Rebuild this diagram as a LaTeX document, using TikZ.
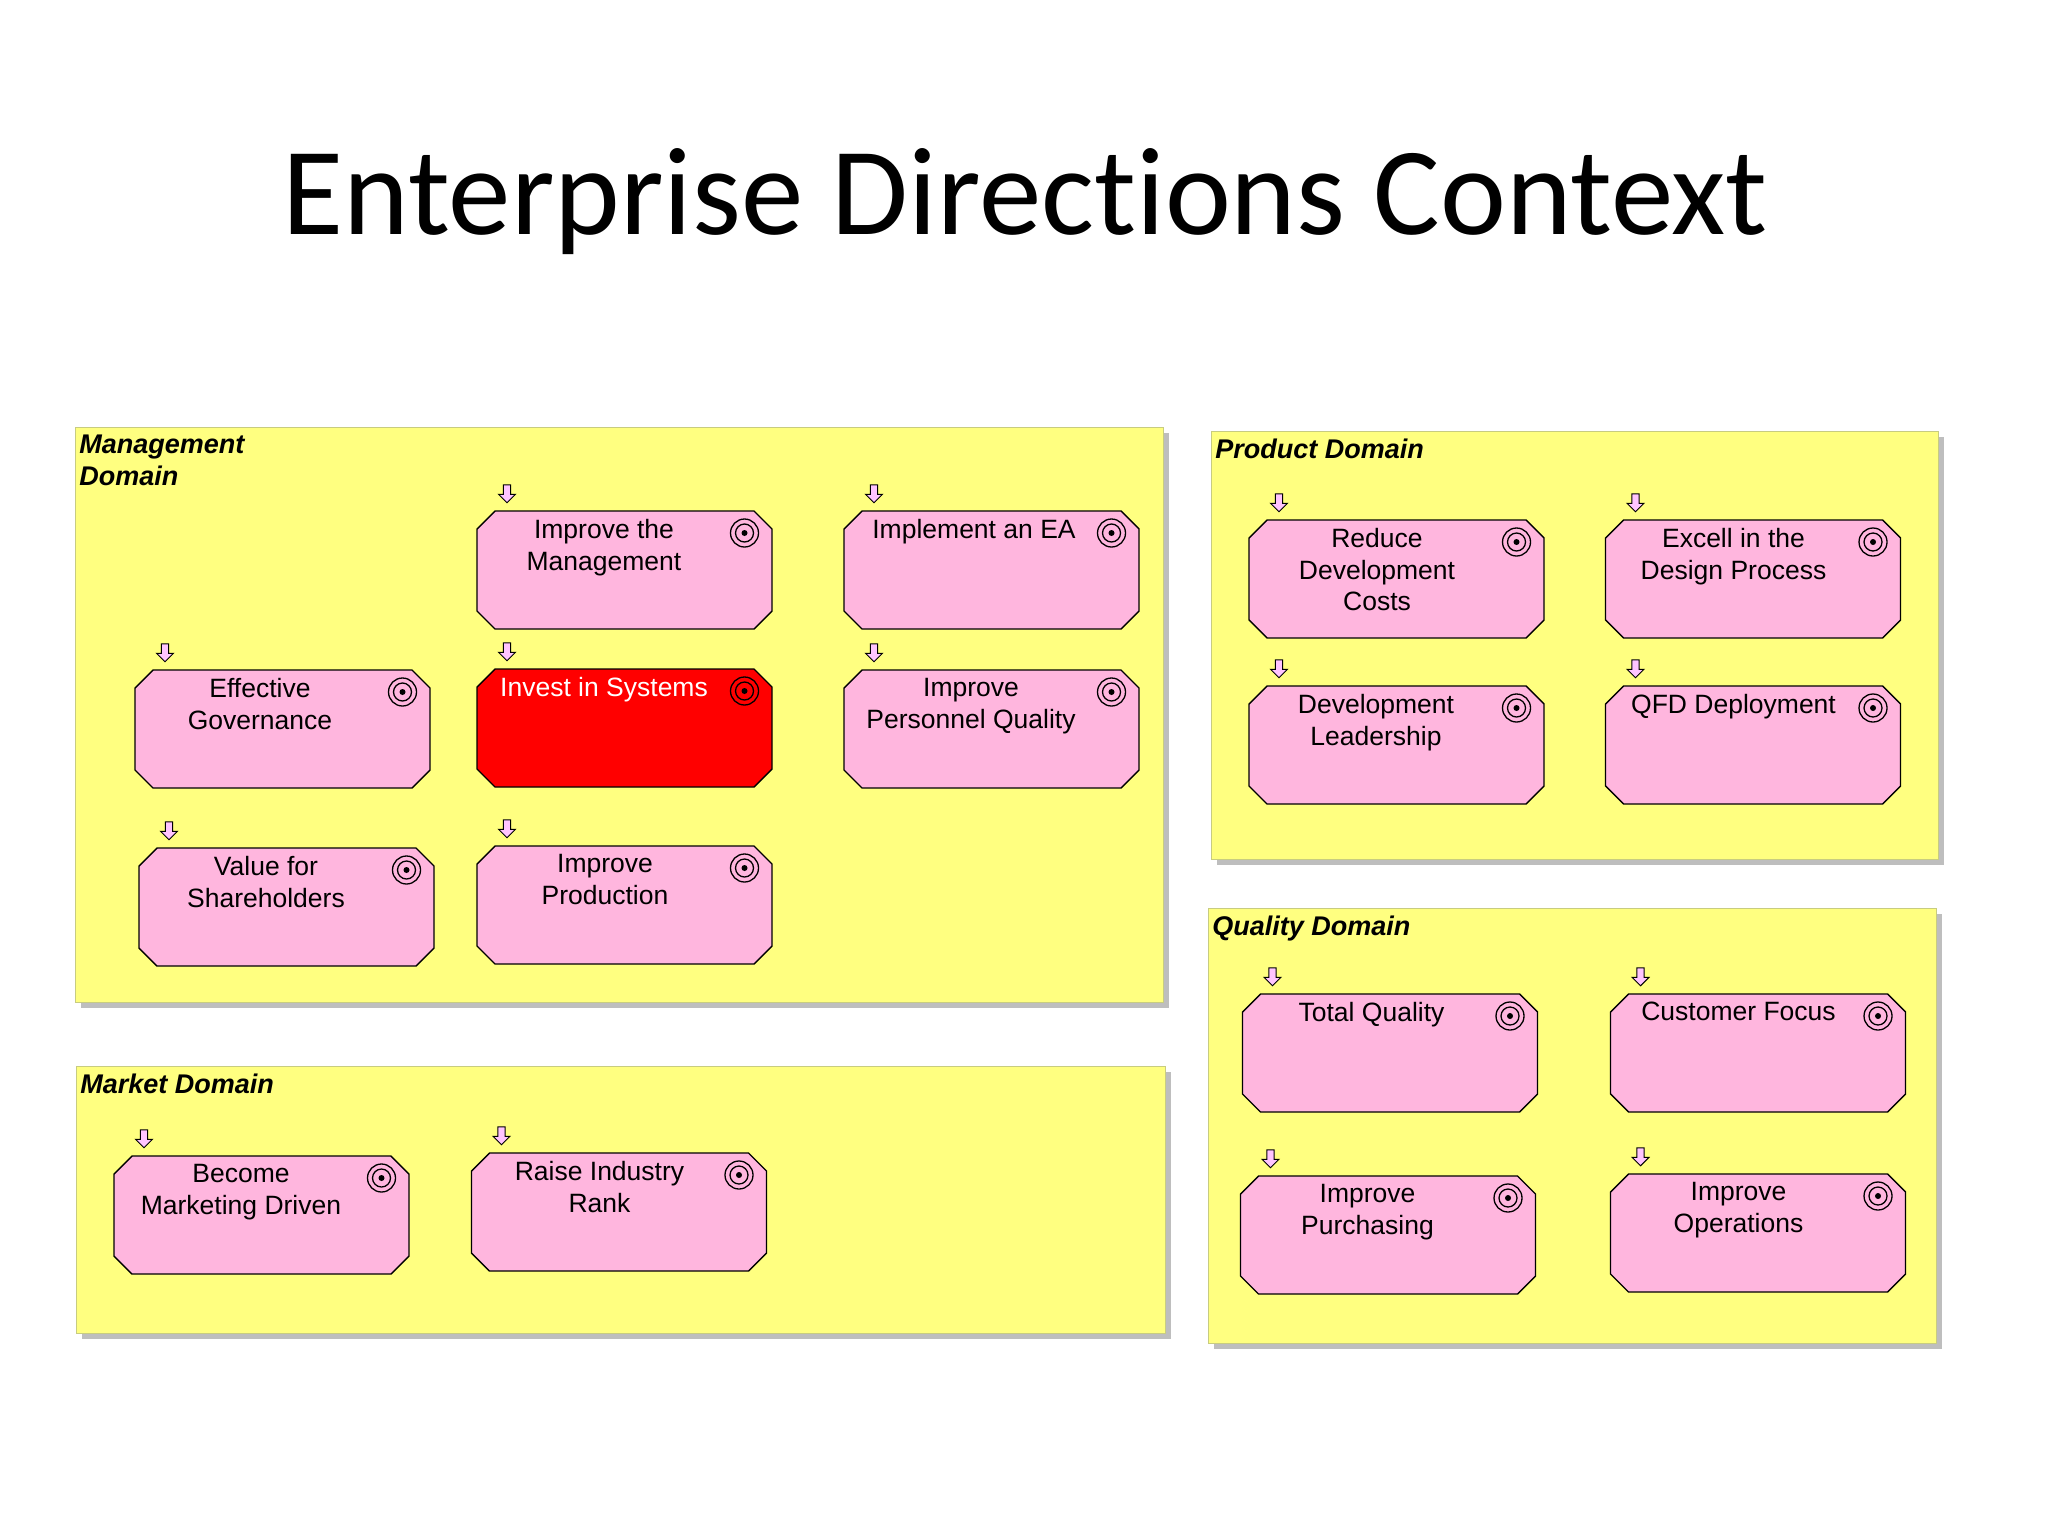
\documentclass[tikz,border=0pt]{standalone}
\usepackage{fontspec}
\setmainfont{Liberation Sans}
\newfontfamily\titlefont[Ligatures=NoCommon]{Carlito}
\usetikzlibrary{shapes.arrows}
\definecolor{panelfill}{HTML}{FFFF80}
\definecolor{panelline}{HTML}{C8CC80}
\definecolor{panelshadow}{HTML}{BEBEBE}
\definecolor{goalpink}{HTML}{FFB6DE}
\definecolor{arrowpink}{HTML}{FFC4FF}
\tikzset{
  panelbox/.style={draw=panelline,line width=0.6pt,fill=panelfill,anchor=north west,inner sep=0pt},
  panelshade/.style={fill=panelshadow,draw=none,anchor=north west,inner sep=0pt},
  paneltitle/.style={font=\fontsize{13.5}{15.7}\selectfont\bfseries\itshape,anchor=north west,align=left,inner sep=0pt},
  goalshape/.style={draw=black,line width=0.7pt,fill=goalpink,line join=miter},
  goaltext/.style={font=\fontsize{13.25}{15.7}\selectfont,align=center,anchor=north,inner sep=0pt,text=black},
  targetring/.style={circle,draw=black,line width=0.65pt,inner sep=0pt,fill=none},
  markerarrow/.style={single arrow,draw=black,line width=0.45pt,fill=arrowpink,minimum height=9pt,minimum width=8.5pt,single arrow head extend=1.5pt,single arrow tip angle=90,shape border rotate=270,inner sep=0.9pt},
}
% #1 name, #2 left, #3 top, #4 text centre offset from left, #5 text, #6 extra shape style, #7 extra text style
\newcommand{\goalunit}[7]{%
  \draw[goalshape,#6] (#2+18,#3) -- (#2+277,#3) -- (#2+295,#3+18) -- (#2+295,#3+100) -- (#2+277,#3+118) -- (#2+18,#3+118) -- (#2,#3+100) -- (#2,#3+18) -- cycle;
  \node[goaltext,#7] (#1-text) at (#2+#4,#3+8) {#5};
  \node[targetring,minimum size=14pt] (#1-outer) at (#2+267.5,#3+22) {};
  \node[targetring,minimum size=9pt] (#1-mid) at (#2+267.5,#3+22) {};
  \node[circle,fill=black,inner sep=0pt,minimum size=3pt] (#1-dot) at (#2+267.5,#3+22) {};
  \node[markerarrow] (#1-arrow) at (#2+30,#3-19) {};
}
\newcommand{\panelunit}[6]{% name,left,top,width,height,title
  \node[panelshade,minimum width=#4*0.5pt,minimum height=#5*0.5pt] (#1-shadow) at (#2+6,#3+6) {};
  \node[panelbox,minimum width=#4*0.5pt,minimum height=#5*0.5pt] (#1) at (#2,#3) {};
  \node[paneltitle] (#1-title) at (#2+4,#3+8) {#6};
}
\begin{document}
\begin{tikzpicture}[x=0.5pt,y=-0.5pt]
\useasboundingbox (0,0) rectangle (2048,1536);
\fill[white] (0,0) rectangle (2048,1536);
\node[font=\titlefont\fontsize{62.5}{66}\selectfont,inner sep=0pt,anchor=base] (title) at (1025.5,234) {Enterprise Directions Context};

\panelunit{mgmt}{75}{427}{1088}{575}{Management\\Domain}
\panelunit{market}{76}{1066}{1089}{267}{Market Domain}
\panelunit{product}{1211}{431}{727}{428}{Product Domain}
\panelunit{quality}{1208}{908}{728}{435}{Quality Domain}

\goalunit{a1}{477}{511}{127}{Improve the\\Management}{}{}
\goalunit{a2}{844}{511}{130}{Implement an EA}{}{}
\goalunit{b1}{135}{670}{125}{Effective\\Governance}{}{}
\goalunit{b2}{477}{669}{127}{Invest in Systems}{fill=red}{text=white}
\goalunit{b3}{844}{670}{127}{Improve\\Personnel Quality}{}{}
\goalunit{c1}{139}{848}{127}{Value for\\Shareholders}{}{}
\goalunit{c2}{477}{846}{128}{Improve\\Production}{}{}

\goalunit{m1}{114}{1156}{127}{Become\\Marketing Driven}{}{}
\goalunit{m2}{471.5}{1153}{128}{Raise Industry\\Rank}{}{}

\goalunit{p1}{1249}{520}{128}{Reduce\\Development\\Costs}{}{}
\goalunit{p2}{1605.5}{520}{128}{Excell in the\\Design Process}{}{}
\goalunit{p3}{1249}{686}{127}{Development\\Leadership}{}{}
\goalunit{p4}{1605.5}{686}{128}{QFD Deployment}{}{}

\goalunit{q1}{1242.5}{994}{129}{Total Quality}{}{}
\goalunit{q2}{1610.5}{994}{128}{Customer Focus}{}{}
\goalunit{q3}{1240.5}{1176}{127}{Improve\\Purchasing}{}{}
\goalunit{q4}{1610.5}{1174}{128}{Improve\\Operations}{}{}
\end{tikzpicture}
\end{document}
